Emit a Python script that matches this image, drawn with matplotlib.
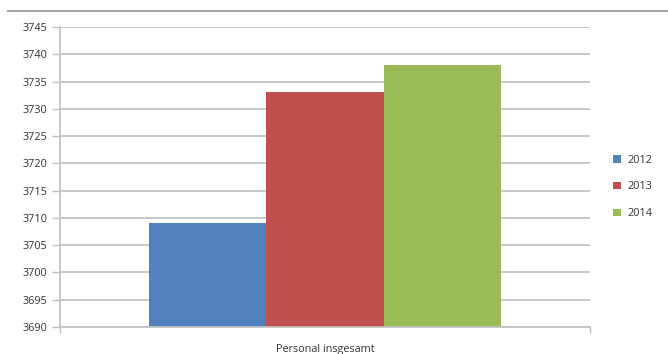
import matplotlib.pyplot as plt
from matplotlib.lines import Line2D
import numpy as np

plt.rcParams["font.family"] = ["Open Sans", "DejaVu Sans"]

category = "Personal insgesamt"
years = ["2012", "2013", "2014"]
values = [3709, 3733, 3738]
colors = ["#4F81BD", "#C0504D", "#9BBB59"]

GRID = "#BFBFBF"
TEXT = "#333333"

fig = plt.figure(figsize=(6.68, 3.54), dpi=100)
ax = fig.add_axes([0.0898, 0.0763, 0.7934, 0.8474])

# a line across the top of the frame
fig.add_artist(Line2D([0.012, 1.0], [0.969, 0.969], transform=fig.transFigure,
                      color="#A6A6A6", lw=1.5))

width = 0.2215
x = (np.arange(len(years)) - 1) * width
for xi, v, c, lab in zip(x, values, colors, years):
    ax.bar(xi, v - 3690, width, bottom=3690, color=c, label=lab, zorder=2)

ax.set_xlim(-0.5, 0.5)
ax.set_ylim(3690, 3745)
ax.set_yticks(np.arange(3690, 3746, 5))
ax.yaxis.grid(True, color=GRID, lw=1.2, zorder=0)
ax.set_axisbelow(True)

ax.set_xticks([-0.5, 0.5])
ax.set_xticklabels([])
ax.tick_params(axis="x", length=4, color=GRID, width=1, direction="out")
ax.tick_params(axis="y", length=6, color=GRID, width=1, labelsize=7.8,
               labelcolor=TEXT, pad=3)
ax.text(0.0, -0.058, category, transform=ax.get_xaxis_transform(),
        ha="center", va="top", fontsize=7.8, color=TEXT)

for side in ("top", "right"):
    ax.spines[side].set_visible(False)
for side in ("left", "bottom"):
    ax.spines[side].set_color(GRID)
    ax.spines[side].set_linewidth(1.2)

ax.legend(loc="center left", bbox_to_anchor=(1.025, 0.467), frameon=False,
          fontsize=7.8, handlelength=0.7, handleheight=0.7, labelspacing=1.45,
          handletextpad=0.6, labelcolor=TEXT)

fig.savefig("out.png", dpi=100)
